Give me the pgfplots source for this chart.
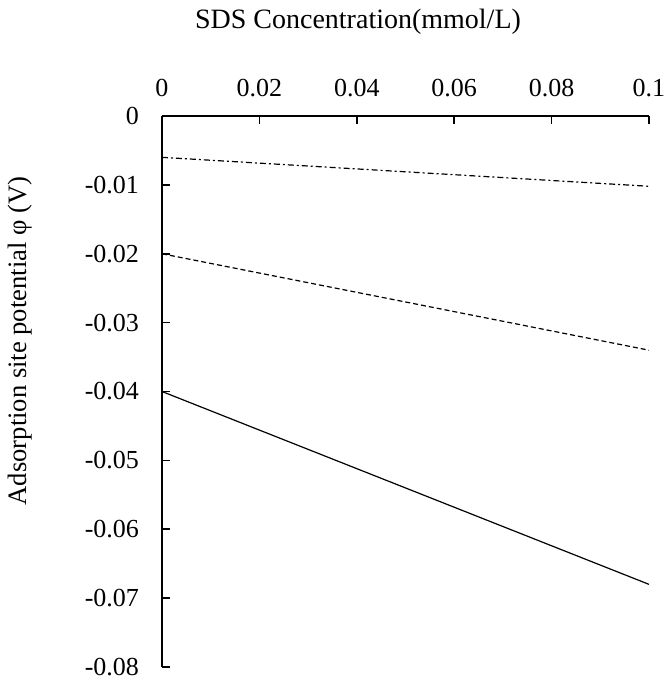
\documentclass[border=0pt]{standalone}
\usepackage{fontspec}
\setmainfont{Liberation Serif}
\usepackage{pgfplots}
\pgfplotsset{compat=1.18}

\begin{document}
\fontsize{13}{15}\selectfont
\begin{tikzpicture}
\begin{axis}[
  name=ax, at={(0,0)}, anchor=south west,
  scale only axis,
  width=243.5pt, height=275.5pt,
  xmin=0, xmax=0.1, ymin=-0.08, ymax=0,
  axis x line=top, axis y line=left,
  axis line style={-, line width=1pt},
  tick align=inside, major tick length=4pt,
  tick style={line width=0.8pt, black},
  xtick={0,0.02,0.04,0.06,0.08,0.1},
  ytick={-0.08,-0.07,-0.06,-0.05,-0.04,-0.03,-0.02,-0.01,0},
  scaled ticks=false,
  /pgf/number format/.cd, fixed, precision=2, assume math mode=true,
  /pgfplots/.cd,
  xticklabel style={yshift=5pt},
  yticklabel style={xshift=-7pt},
  clip=false,
]
% solid
\addplot[black, line width=0.6pt] coordinates {(0,-0.040)(0.1,-0.068)};
% dashed
\addplot[black, line width=0.6pt, dash pattern=on 2.5pt off 1.5pt] coordinates {(0,-0.020)(0.1,-0.034)};
% dash-dot
\addplot[black, line width=0.6pt, dash pattern=on 3pt off 1.5pt on 1pt off 1.5pt] coordinates {(0,-0.006)(0.1,-0.0102)};
\end{axis}
\node[font=\fontsize{14}{16}\selectfont] at ([shift={(98pt,322.5pt)}]ax.south west) {SDS Concentration(mmol/L)};
\node[rotate=90, font=\fontsize{13.3}{15}\selectfont] at ([shift={(-71pt,163pt)}]ax.south west) {Adsorption site potential φ (V)};
\pgfresetboundingbox
\path[use as bounding box] ([shift={(-81pt,-7.5pt)}]ax.south west) rectangle ++(333.5pt,341pt);
\end{tikzpicture}
\end{document}
